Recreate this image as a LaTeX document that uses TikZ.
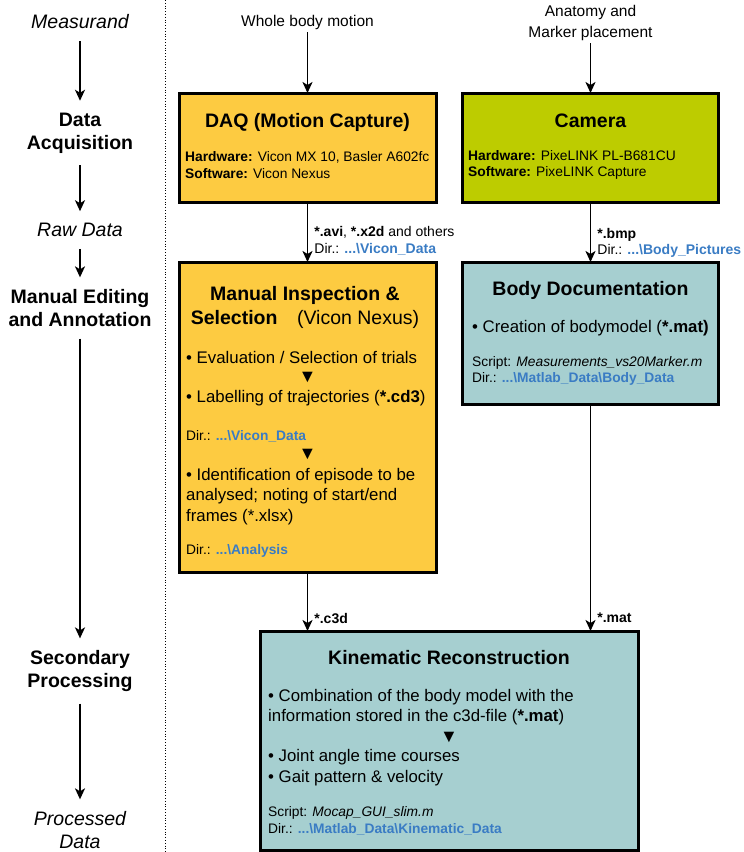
\documentclass[tikz,border=0pt]{standalone}
\usepackage{fontspec}
\setmainfont{Liberation Sans}
\usepackage{xcolor}
\usetikzlibrary{arrows.meta,positioning,calc}
\definecolor{daqyellow}{RGB}{253,203,65}
\definecolor{cameralime}{RGB}{189,204,0}
\definecolor{docteal}{RGB}{166,207,208}
\definecolor{dirblue}{RGB}{58,124,196}
\newcommand{\dirpath}[1]{\textcolor{dirblue}{\bfseries #1}}
\tikzset{
    % Stage labels (left column)
    stagelbl/.style={
        align=center, inner sep=0pt, outer sep=12pt,
        font=\fontsize{19.5}{23}\selectfont\bfseries
    },
    datalbl/.style={
        stagelbl, font=\fontsize{19.5}{23}\selectfont\itshape
    },
    % Input labels (top row)
    inputlbl/.style={
        align=center, inner sep=0pt, outer sep=3pt,
        font=\fontsize{15.5}{20.5}\selectfont
    },
    % Process box styles
    procbox/.style={
        rectangle, draw=black, line width=3pt,
        inner sep=0pt, outer sep=0pt
    },
    daqbox/.style={procbox, fill=daqyellow},
    cambox/.style={procbox, fill=cameralime},
    docbox/.style={procbox, fill=docteal},
    % Text inside the boxes
    boxtitle/.style={
        inner sep=0pt, align=center,
        font=\fontsize{19.5}{24}\selectfont\bfseries
    },
    boxitem/.style={
        inner sep=0pt, anchor=west, align=left,
        font=\fontsize{16.8}{20.5}\selectfont
    },
    boxinfo/.style={
        inner sep=0pt, anchor=west, align=left,
        font=\fontsize{13.8}{16.5}\selectfont
    },
    steptri/.style={inner sep=0pt, font=\fontsize{18}{18}\selectfont},
    % Connectors and file labels
    flow/.style={-{Stealth[length=11pt,width=10pt,inset=3pt]}, line width=1.8pt},
    filelbl/.style={
        right, inner sep=6pt, align=left,
        font=\fontsize{14}{16.5}\selectfont
    }
}

\begin{document}
\begin{tikzpicture}[x=1pt, y=-1pt]

% Canvas
\useasboundingbox (0,0) rectangle (744,852);

% Stage column
\node[datalbl] (measurand) at (80,22) {Measurand};
\node[stagelbl] (acq) at (80,133) {Data\\Acquisition};
\node[datalbl] (raw) at (80,230) {Raw Data};
\node[stagelbl] (editing) at (80,308) {Manual Editing\\and Annotation};
\node[stagelbl] (secondary) at (80,671) {Secondary\\Processing};
\node[datalbl] (processed) at (80,830) {Processed\\Data};
\draw[flow] (measurand) -- (acq);
\draw[flow] (acq) -- (raw);
\draw[flow] (raw) -- (editing);
\draw[flow] (editing) -- (secondary);
\draw[flow] (secondary) -- (processed);

% Separator
\draw[dotted, line width=0.8pt] (165,0) -- (165,852);

% Inputs
\node[inputlbl] (motion) at (307.5,22) {Whole body motion};
\node[inputlbl] (anatomy) at (590.5,23) {Anatomy and\\Marker placement};

% DAQ (Motion Capture)
\node[daqbox, minimum width=257pt, minimum height=109pt] (daq) at (307.5,147.5) {};
\node[boxtitle] (daqtitle) at (307.5,122) {DAQ (Motion Capture)};
\node[boxinfo] (daqinfo) at (185,165) {\textbf{Hardware:} Vicon MX 10, Basler A602fc\\\textbf{Software:} Vicon Nexus};

% Camera
\node[cambox, minimum width=256pt, minimum height=109pt] (cam) at (590.5,147.5) {};
\node[boxtitle] (camtitle) at (590.5,121) {Camera};
\node[boxinfo] (caminfo) at (468,165) {\textbf{Hardware:} PixeLINK PL-B681CU\\\textbf{Software:} PixeLINK Capture};

% Manual Inspection & Selection
\node[daqbox, minimum width=257pt, minimum height=310pt] (man) at (307.5,417) {};
\node[boxtitle] (mantitle) at (305,307) {Manual Inspection \&\\Selection\quad{\mdseries(Vicon Nexus)}};
\node[boxitem] (trials) at (186,357) {• Evaluation / Selection of trials};
\node[steptri] (tri1) at (307.5,377) {▼};
\node[boxitem] (labelling) at (186,398) {• Labelling of trajectories (\textbf{*.cd3})};
\node[boxinfo] (vicondir) at (186,436) {Dir.: \dirpath{...\textbackslash Vicon\_Data}};
\node[steptri] (tri2) at (307.5,454) {▼};
\node[boxitem] (episode) at (186,496.5) {• Identification of episode to be\\analysed; noting of start/end\\frames (*.xlsx)};
\node[boxinfo] (analysisdir) at (186,551) {Dir.: \dirpath{...\textbackslash Analysis}};

% Body Documentation
\node[docbox, minimum width=256pt, minimum height=142pt] (body) at (590.5,333) {};
\node[boxtitle] (bodytitle) at (590.5,290) {Body Documentation};
\node[boxitem] (bodymodel) at (472,328) {• Creation of bodymodel (\textbf{*.mat)}};
\node[boxinfo] (bodyinfo) at (472,371) {Script: \textit{Measurements\_vs20Marker.m}\\Dir.: \dirpath{...\textbackslash Matlab\_Data\textbackslash Body\_Data}};

% Kinematic Reconstruction
\node[docbox, minimum width=378pt, minimum height=219pt] (kin) at (449,740.5) {};
\node[boxtitle] (kintitle) at (449,658) {Kinematic Reconstruction};
\node[boxitem] (combination) at (268,707) {• Combination of the body model with the\\information stored in the c3d-file (\textbf{*.mat})};
\node[steptri] (tri3) at (449,737) {▼};
\node[boxitem] (results) at (268,767.5) {• Joint angle time courses\\• Gait pattern \& velocity};
\node[boxinfo] (kininfo) at (268,821) {Script: \textit{Mocap\_GUI\_slim.m}\\Dir.: \dirpath{...\textbackslash Matlab\_Data\textbackslash Kinematic\_Data}};

% Data flow
\draw[flow] (motion) -- (daq);
\draw[flow] (anatomy) -- (cam);
\draw[flow] (daq) -- (man) node[filelbl, pos=0.65] (daqfiles) {\textbf{*.avi}, \textbf{*.x2d} and others\\Dir.: \dirpath{...\textbackslash Vicon\_Data}};
\draw[flow] (cam) -- (body) node[filelbl, pos=0.68] (camfiles) {\textbf{*.bmp}\\Dir.: \dirpath{...\textbackslash Body\_Pictures}};
\draw[flow] (man.south) -- (man.south |- kin.north) node[filelbl, pos=0.78] (c3dfile) {\textbf{*.c3d}};
\draw[flow] (body.south) -- (body.south |- kin.north) node[filelbl, pos=0.94] (matfile) {\textbf{*.mat}};

\end{tikzpicture}
\end{document}
